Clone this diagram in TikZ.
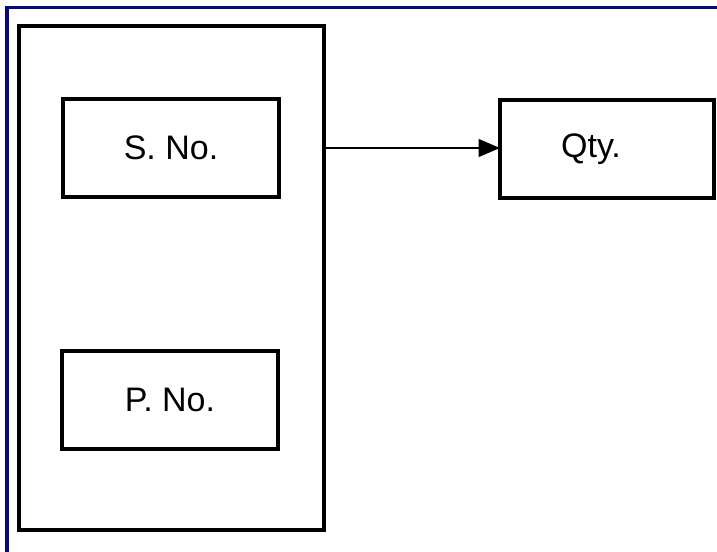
\documentclass[tikz,border=0pt]{standalone}
\usepackage{fontspec}
\setmainfont{Liberation Sans}
\usetikzlibrary{arrows.meta}
\definecolor{framenavy}{RGB}{8,8,125}
\begin{document}
\begin{tikzpicture}[x=0.75pt,y=-0.75pt,
  labelfont/.style={font=\fontsize{25.5}{28}\selectfont},
  field/.style={draw=black, line width=2.6pt, fill=white, inner sep=0pt, outer sep=0pt,
    minimum width=162pt, minimum height=73.5pt, labelfont},
  group/.style={draw=black, line width=2.6pt, inner sep=0pt, outer sep=0pt,
    minimum width=228.75pt, minimum height=378pt},
  link/.style={line width=2.2pt, -{Triangle[length=16pt,width=13pt]}}]
  % page extent
  \useasboundingbox (0,0) rectangle (717,552);
  \fill[white] (0,0) rectangle (717,552);
  % navy page frame (top and left edges)
  \draw[framenavy, line width=2.5pt] (7,560) -- (7,7.5) -- (725,7.5);
  % composite key group
  \node[group] (key) at (171.5,278) {};
  \node[field] (sno) at (171,148) {S. No.};
  \node[field] (pno) at (170,400) {P. No.};
  % dependent attribute
  \node[field, minimum width=160.5pt,
        label={[xshift=-12pt, labelfont]center:Qty.}] (qty) at (607,149) {};
  % dependency arrow
  \draw[link] (sno -| key.east) -- (qty.west |- sno);
\end{tikzpicture}
\end{document}
